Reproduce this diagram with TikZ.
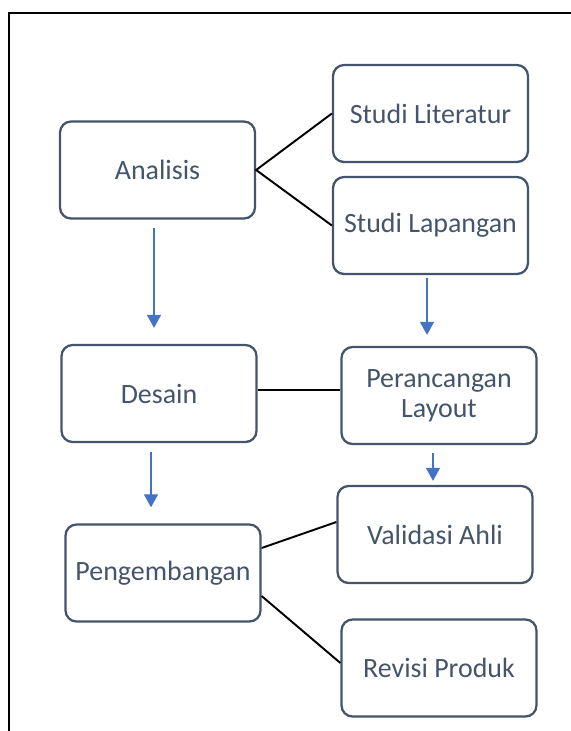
\documentclass[tikz,border=0pt]{standalone}
\usepackage{fontspec}
\setmainfont{Carlito}
\usetikzlibrary{arrows.meta}
\definecolor{boxline}{HTML}{44546A}
\definecolor{flowblue}{HTML}{4472C4}
\tikzset{
    stage/.style={draw=boxline, line width=1.3pt, rounded corners=0.22cm,
        minimum width=3.9cm, minimum height=1.94cm, inner sep=0pt,
        align=center, text=boxline, font=\fontsize{15.9}{17}\selectfont},
    link/.style={black, line width=1.1pt},
    flow/.style={flowblue, line width=0.7pt, -{Triangle[width=0.28cm,length=0.26cm]}}
}
\begin{document}
\begin{tikzpicture}[x=0.02cm, y=-0.02cm]
            \useasboundingbox (0, 0) rectangle (571, 731);
            \draw[line width=0.85pt] (9, 731) -- (9, 13) -- (571, 13);

            \node[stage] (analisis)     at (157.5, 170)   {Analisis};
            \node[stage] (literatur)    at (430.5, 113.5) {Studi Literatur};
            \node[stage] (lapangan)     at (430.5, 225.5) {Studi Lapangan};
            \node[stage] (desain)       at (159, 393.5)   {Desain};
            \node[stage] (layout)       at (439, 395.5)   {Perancangan\\Layout};
            \node[stage] (pengembangan) at (163, 573)     {Pengembangan};
            \node[stage] (validasi)     at (435, 534.5)   {Validasi Ahli};
            \node[stage] (revisi)       at (439, 668)     {Revisi Produk};

            \draw[link] (literatur.west) -- (analisis.east) -- (lapangan.west);
            \draw[link] ([yshift=0.07cm]desain.east) -- ([yshift=0.07cm]desain.east -| layout.west);
            \draw[link] ([yshift=0.5cm]pengembangan.east) -- ([yshift=0.25cm]validasi.west);
            \draw[link] ([yshift=-0.46cm]pengembangan.east) -- ([yshift=0.1cm]revisi.west);

            \draw[flow, shorten <=0.16cm, shorten >=0.32cm]
                ([xshift=-0.07cm]analisis.south) -- ([xshift=-0.07cm]analisis.south |- desain.north);
            \draw[flow, shorten <=0.06cm, shorten >=0.22cm]
                ([xshift=-0.07cm]lapangan.south) -- ([xshift=-0.07cm]lapangan.south |- layout.north);
            \draw[flow, shorten <=0.18cm, shorten >=0.32cm]
                ([xshift=-0.16cm]desain.south) -- ([xshift=-0.16cm]desain.south |- pengembangan.north);
            \draw[flow, shorten <=0.16cm, shorten >=0.08cm]
                ([xshift=-0.12cm]layout.south) -- ([xshift=-0.12cm]layout.south |- validasi.north);
        \end{tikzpicture}
\end{document}
